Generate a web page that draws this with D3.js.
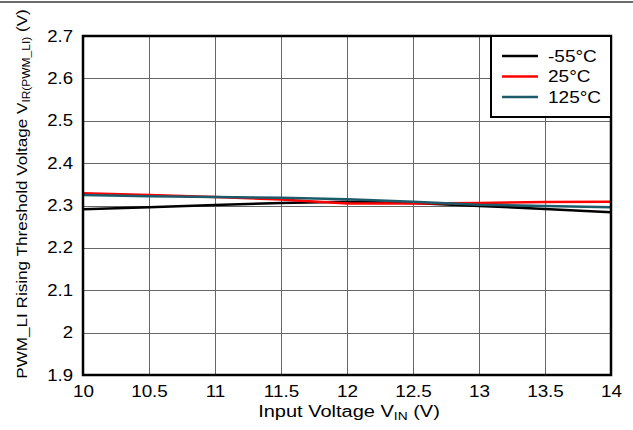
<!DOCTYPE html>
<html>
<head>
<meta charset="utf-8">
<script src="https://cdn.jsdelivr.net/npm/d3@7"></script>
<style>
  html, body { margin: 0; padding: 0; background: #fff; }
  svg { display: block; font-family: "Liberation Sans", Arial, sans-serif; }
</style>
</head>
<body>
<svg id="chart" width="633" height="430"></svg>
<script>
// Input voltage sweep (V)
const vin = [10, 10.5, 11, 11.5, 12, 12.5, 13, 13.5, 14];

// Rising threshold voltage (V) per temperature
const tMinus55 = [2.291, 2.296, 2.301, 2.306, 2.309, 2.306, 2.299, 2.292, 2.284];
const t25      = [2.329, 2.325, 2.320, 2.314, 2.305, 2.305, 2.306, 2.308, 2.309];
const t125     = [2.325, 2.322, 2.320, 2.318, 2.315, 2.309, 2.302, 2.299, 2.296];

const seriesNames  = ["-55°C", "25°C", "125°C"];
const seriesColors = ["#000000", "#ff0000", "#1d5b6b"];
const seriesValues = [tMinus55, t25, t125];

const xTicks = [10, 10.5, 11, 11.5, 12, 12.5, 13, 13.5, 14];
const yTicks = [1.9, 2, 2.1, 2.2, 2.3, 2.4, 2.5, 2.6, 2.7];

const svg = d3.select("#chart");
const L = 83, R = 611, T = 36, B = 375;

const x = d3.scaleLinear().domain([10, 14]).range([L, R]);
const y = d3.scaleLinear().domain([1.9, 2.7]).range([B, T]);

// Widen glyphs horizontally (wide Arial-style lettering); x is kept at the anchor.
function widen(sel, k, x0) {
  sel.attr("transform", `scale(${k},1)`).attr("x", x0 / k);
}

// Rule across the top of the figure
svg.append("line")
  .attr("x1", 0).attr("x2", 633).attr("y1", 2).attr("y2", 2)
  .attr("stroke", "#6b6b6b").attr("stroke-width", 2);

// Grid
const grid = svg.append("g").attr("stroke", "#666").attr("stroke-width", 1);
grid.selectAll(".gx").data(xTicks.slice(1, -1)).join("line")
  .attr("x1", d => x(d) + 0.5).attr("x2", d => x(d) + 0.5)
  .attr("y1", T).attr("y2", B);
grid.selectAll(".gy").data(yTicks.slice(1, -1)).join("line")
  .attr("x1", L).attr("x2", R)
  .attr("y1", d => Math.round(y(d)) + 0.5).attr("y2", d => Math.round(y(d)) + 0.5);

// Axes (tick labels only)
const fmt = d => String(+d.toFixed(1));
const xAxis = svg.append("g").attr("transform", `translate(0,${B})`)
  .call(d3.axisBottom(x).tickValues(xTicks).tickFormat(fmt).tickSize(0).tickPadding(11));
const yAxis = svg.append("g").attr("transform", `translate(${L},0)`)
  .call(d3.axisLeft(y).tickValues(yTicks).tickFormat(fmt).tickSize(0).tickPadding(10));
[xAxis, yAxis].forEach(a => {
  a.select(".domain").remove();
  a.selectAll("text").attr("font-size", 16).attr("fill", "#000")
    .attr("font-family", "'Liberation Sans', Arial, sans-serif");
});
widen(xAxis.selectAll("text"), 1.18, 0);
widen(yAxis.selectAll("text"), 1.16, -10);

// Series lines
const line = d3.line().x((d, i) => x(vin[i])).y(d => y(d));
svg.append("g").selectAll("path").data(seriesValues).join("path")
  .attr("d", line)
  .attr("fill", "none")
  .attr("stroke", (d, i) => seriesColors[i])
  .attr("stroke-width", 2.5);

// Frame
svg.append("rect")
  .attr("x", L).attr("y", T).attr("width", R - L).attr("height", B - T)
  .attr("fill", "none").attr("stroke", "#000").attr("stroke-width", 2.5);

// Legend
const lg = svg.append("g");
lg.append("rect")
  .attr("x", 491).attr("y", T).attr("width", R - 491).attr("height", 81)
  .attr("fill", "#fff").attr("stroke", "#000").attr("stroke-width", 2);
seriesNames.forEach((name, i) => {
  const yy = 56 + i * 20.5;
  lg.append("line").attr("x1", 502).attr("x2", 538).attr("y1", yy).attr("y2", yy)
    .attr("stroke", seriesColors[i]).attr("stroke-width", 2.5);
  const t = lg.append("text").attr("y", yy).attr("dy", "0.36em")
    .attr("font-size", 16).text(name);
  widen(t, 1.19, 548);
});

// Axis titles
const xt = svg.append("text").attr("y", 417)
  .attr("text-anchor", "middle").attr("font-size", 16);
xt.append("tspan").text("Input Voltage V");
xt.append("tspan").attr("font-size", 11).attr("dy", 3).text("IN");
xt.append("tspan").attr("dy", -3).text(" (V)");
widen(xt, 1.25, 349);

const yt = svg.append("text")
  .attr("transform", `translate(27,194) rotate(-90) scale(1.14,1)`)
  .attr("text-anchor", "middle").attr("font-size", 15);
yt.append("tspan").text("PWM_LI Rising Threshold Voltage V");
yt.append("tspan").attr("font-size", 10.5).attr("dy", 3).text("IR(PWM_LI)");
yt.append("tspan").attr("dy", -3).text(" (V)");
</script>
</body>
</html>
